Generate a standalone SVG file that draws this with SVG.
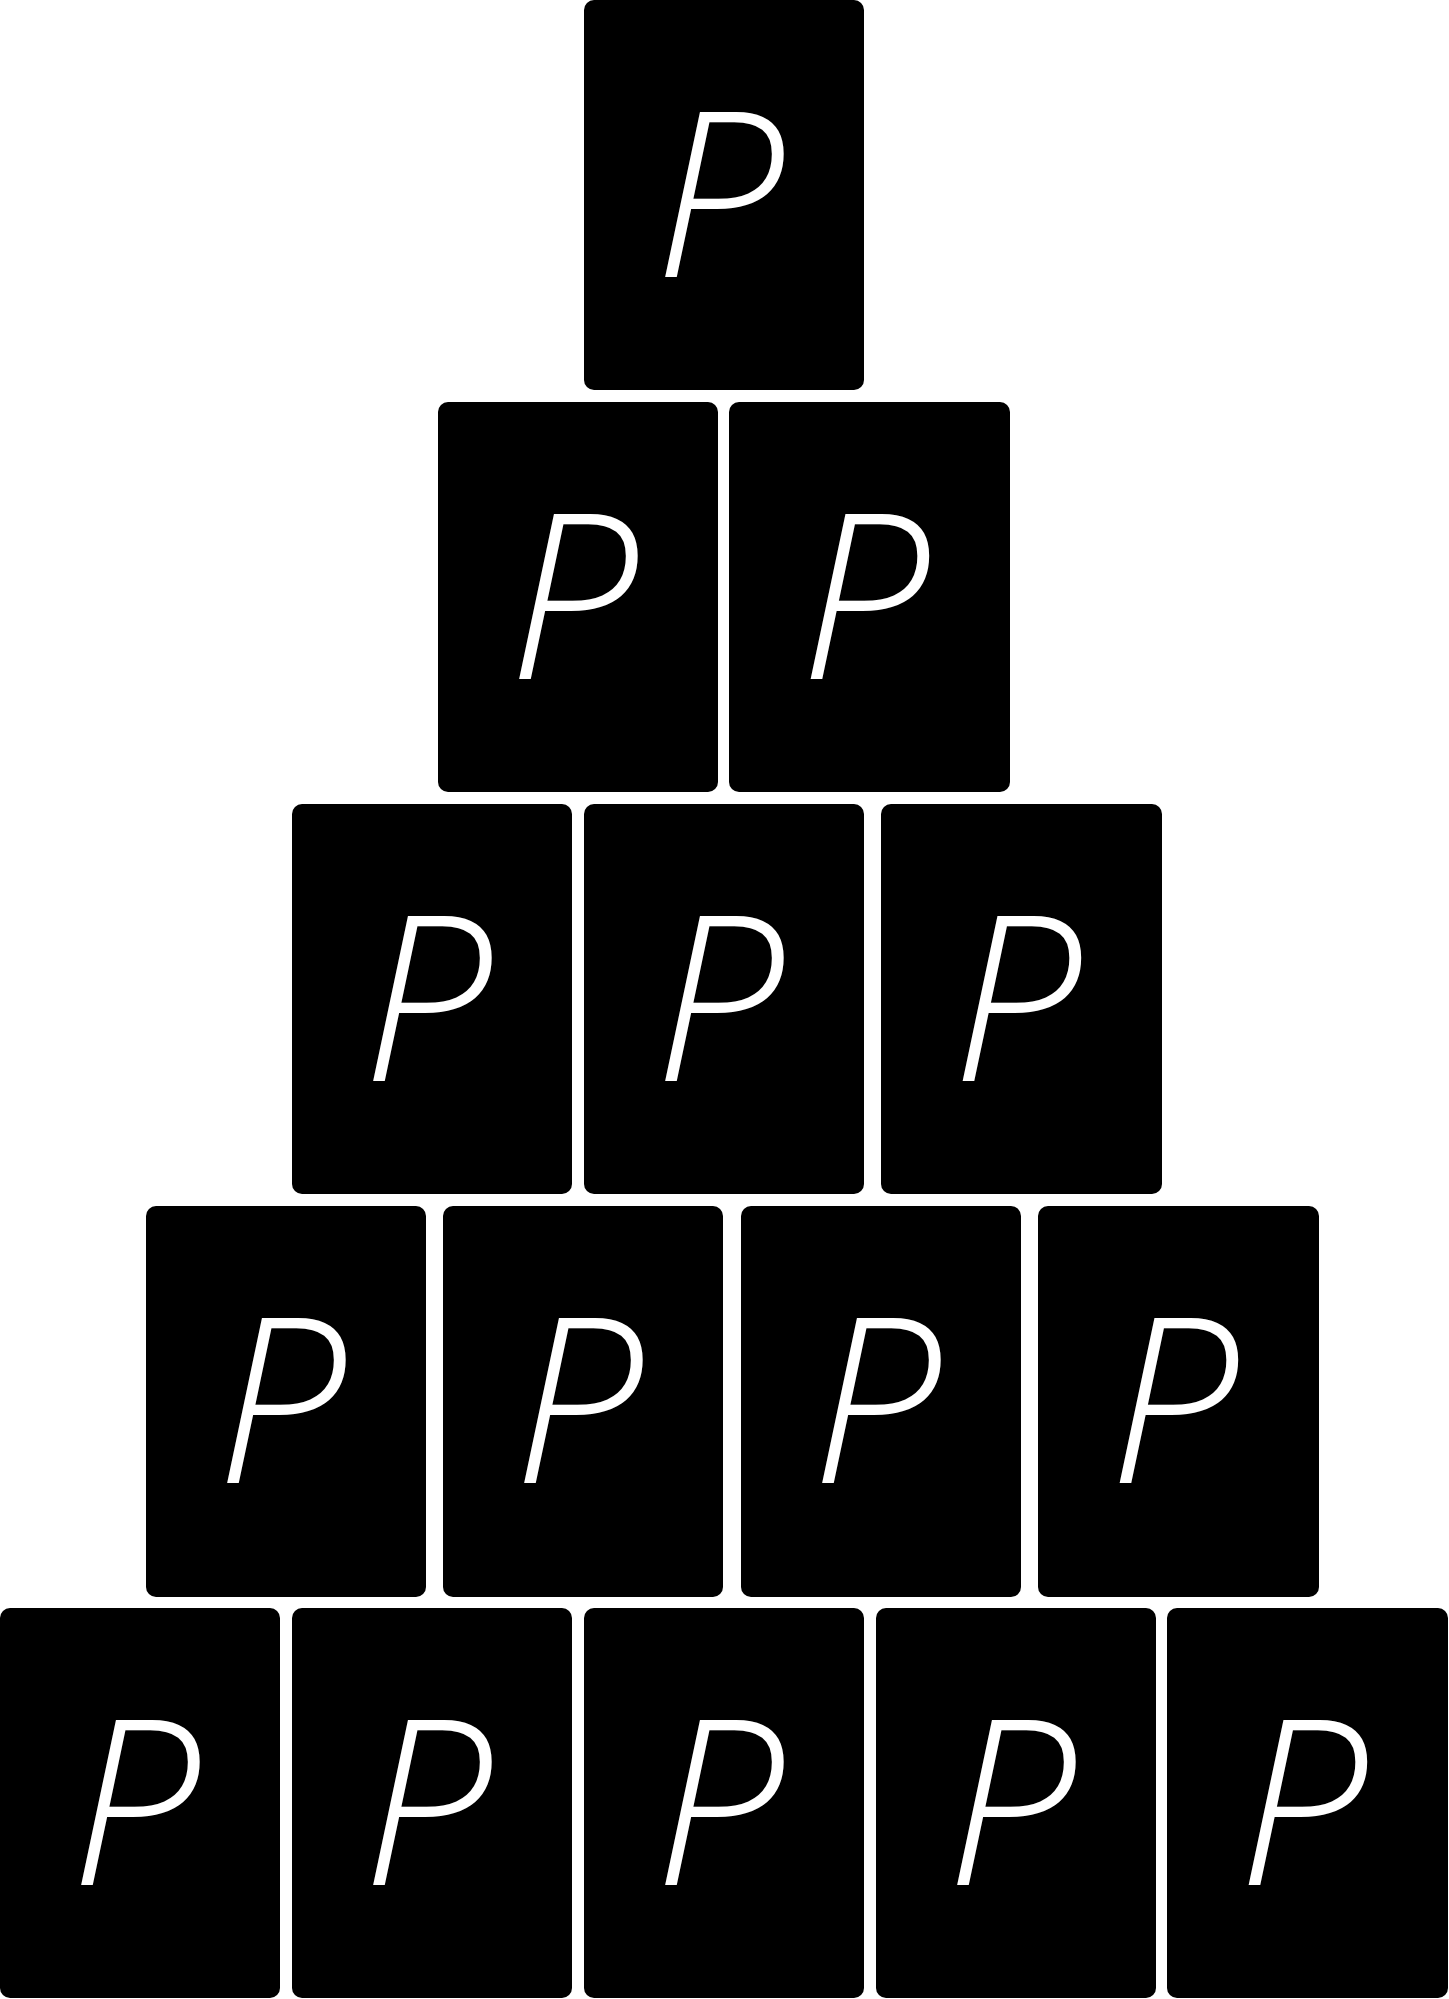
<svg xmlns="http://www.w3.org/2000/svg" width="1449" height="1999" viewBox="0 0 1449 1999">
<style>
.b{fill:#000;}
.t{fill:#fff;font-family:"Open Sans","Liberation Sans",sans-serif;font-style:italic;font-weight:300;font-size:230px;text-anchor:middle;}
</style>
<rect width="1449" height="1999" fill="#fff"/>
<g id="connectors"></g>
<g id="n0"><rect class="b" x="584" y="0" width="280" height="390" rx="10"/><text class="t" x="719" y="277">P</text></g>
<g id="n1"><rect class="b" x="438" y="402" width="280" height="390" rx="10"/><text class="t" x="573" y="679">P</text></g>
<g id="n2"><rect class="b" x="729" y="402" width="281" height="390" rx="10"/><text class="t" x="864.5" y="679">P</text></g>
<g id="n3"><rect class="b" x="292" y="804" width="280" height="390" rx="10"/><text class="t" x="427" y="1081">P</text></g>
<g id="n4"><rect class="b" x="584" y="804" width="280" height="390" rx="10"/><text class="t" x="719" y="1081">P</text></g>
<g id="n5"><rect class="b" x="881" y="804" width="281" height="390" rx="10"/><text class="t" x="1016.5" y="1081">P</text></g>
<g id="n6"><rect class="b" x="146" y="1206" width="280" height="391" rx="10"/><text class="t" x="281" y="1483">P</text></g>
<g id="n7"><rect class="b" x="443" y="1206" width="280" height="391" rx="10"/><text class="t" x="578" y="1483">P</text></g>
<g id="n8"><rect class="b" x="741" y="1206" width="280" height="391" rx="10"/><text class="t" x="876" y="1483">P</text></g>
<g id="n9"><rect class="b" x="1038" y="1206" width="281" height="391" rx="10"/><text class="t" x="1173.5" y="1483">P</text></g>
<g id="n10"><rect class="b" x="0" y="1608" width="280" height="390" rx="10"/><text class="t" x="135" y="1885">P</text></g>
<g id="n11"><rect class="b" x="292" y="1608" width="280" height="390" rx="10"/><text class="t" x="427" y="1885">P</text></g>
<g id="n12"><rect class="b" x="584" y="1608" width="280" height="390" rx="10"/><text class="t" x="719" y="1885">P</text></g>
<g id="n13"><rect class="b" x="876" y="1608" width="280" height="390" rx="10"/><text class="t" x="1011" y="1885">P</text></g>
<g id="n14"><rect class="b" x="1167" y="1608" width="281" height="390" rx="10"/><text class="t" x="1302.5" y="1885">P</text></g>
</svg>
